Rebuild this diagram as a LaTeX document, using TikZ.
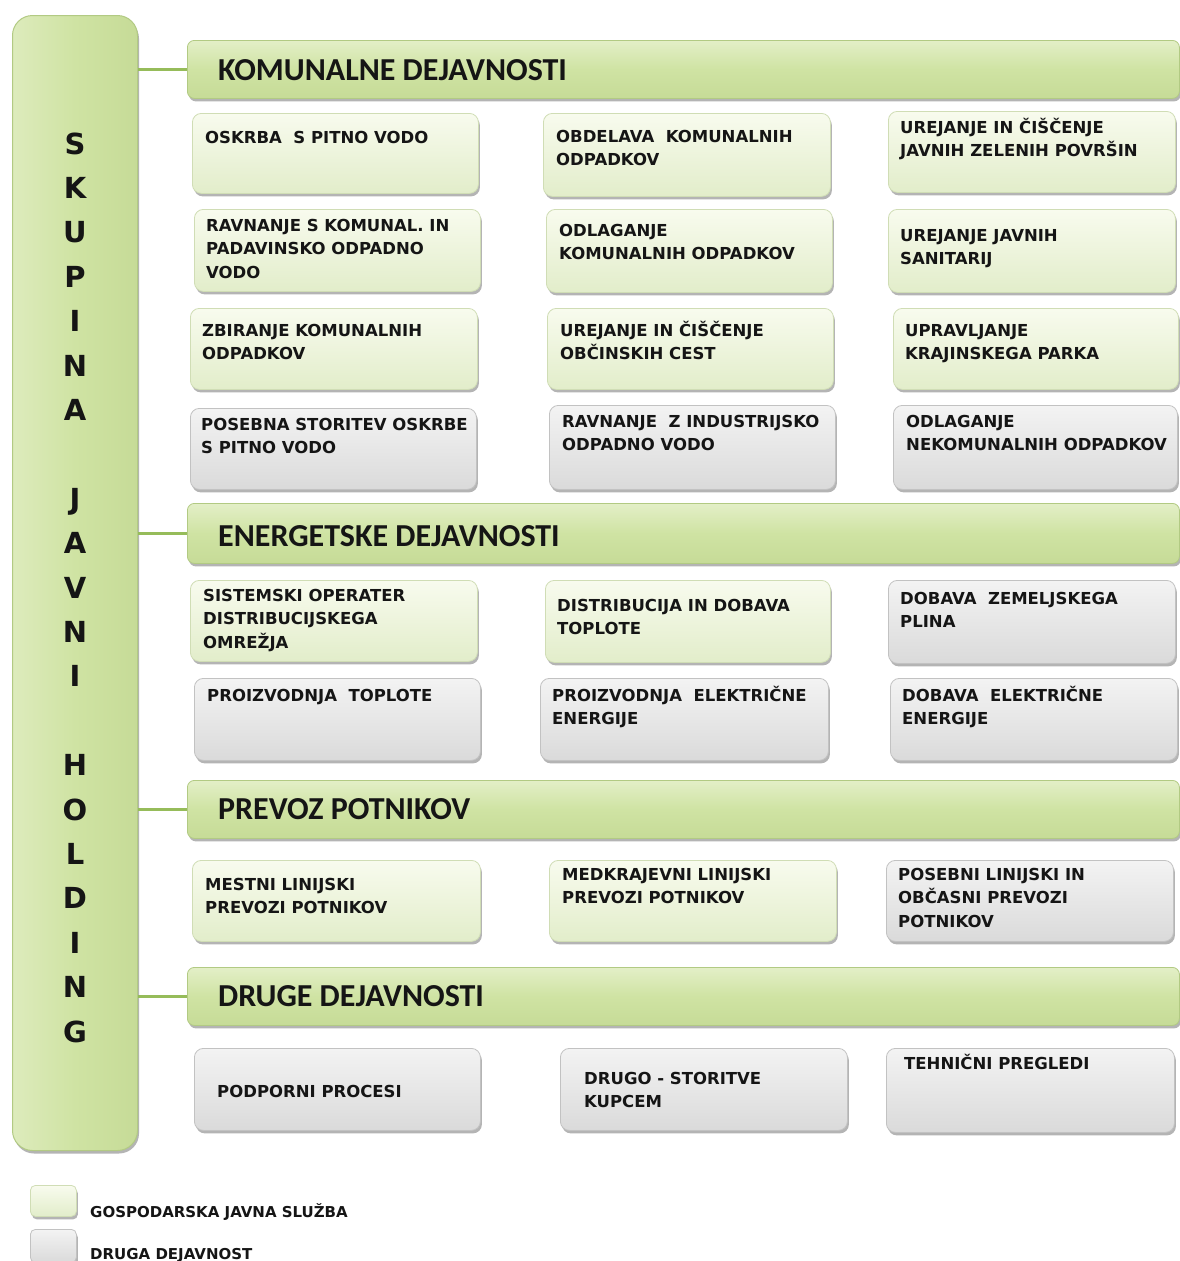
\documentclass[tikz,border=0pt]{standalone}
\usepackage{fontspec}
\setmainfont{DejaVu Sans}
\newfontfamily\catfont{Carlito}
\usetikzlibrary{shadows}
\definecolor{barg}{HTML}{CFE3A3}
\definecolor{bartop}{HTML}{E3EFC7}
\definecolor{barbot}{HTML}{C6DB97}
\definecolor{barleft}{HTML}{DDEBBC}
\definecolor{barline}{HTML}{B2CA83}
\definecolor{gtop}{HTML}{F8FBEE}
\definecolor{gbot}{HTML}{E2EDCA}
\definecolor{gline}{HTML}{D0DDB5}
\definecolor{ytop}{HTML}{F3F3F3}
\definecolor{ybot}{HTML}{DADADA}
\definecolor{yline}{HTML}{C2C2C2}
\definecolor{connc}{HTML}{96BC5A}
\definecolor{txtc}{HTML}{151515}
\tikzset{
  shad/.style={drop shadow={shadow xshift=1.5pt, shadow yshift=-3pt, opacity=0.45, fill=black!65}},
  gbox/.style={rounded corners=9pt, draw=gline, line width=0.8pt, top color=gtop, bottom color=gbot, shad, inner sep=0},
  ybox/.style={rounded corners=9pt, draw=yline, line width=0.8pt, top color=ytop, bottom color=ybot, shad, inner sep=0},
  catbar/.style={rounded corners=7pt, draw=barline, line width=0.8pt, top color=bartop, bottom color=barbot, middle color=barg, shad, inner sep=0},
  leftbar/.style={rounded corners=20pt, draw=barline, line width=1pt, left color=barleft, right color=barbot, middle color=barg, shad, inner sep=0},
  boxtext/.style={inner sep=0, font=\bfseries\fontsize{16.5}{23.5}\selectfont, text=txtc},
  cattext/.style={inner sep=0, font=\catfont\bfseries\fontsize{32}{36}\selectfont, text=txtc},
  legtext/.style={inner sep=0, font=\bfseries\fontsize{15}{18}\selectfont, text=txtc},
  connline/.style={draw=connc, line width=3pt},
}
\newcommand\mkbox[6]{\node[#2, anchor=north west, minimum width={(#5-#3)*1pt}, minimum height={(#6-#4)*1pt}] (#1) at (#3,#4) {};}
\newcommand\mktxt[4]{\node[boxtext, anchor=base west] (#1) at (#2,#3) {\begin{tabular}[t]{@{}l@{}}#4\end{tabular}};}
\begin{document}
\begin{tikzpicture}[x=1pt,y=-1pt]
\fill[white] (0,0) rectangle (1180,1261);
\useasboundingbox (0,0) rectangle (1180,1261);
% left bar
\mkbox{lbar}{leftbar}{12}{15}{137}{1150}
\node[inner sep=0, anchor=base, font=\bfseries\fontsize{29}{44.4}\selectfont, text=txtc] (title) at (75,154)
 {\begin{tabular}[t]{@{}c@{}}S\\K\\U\\P\\I\\N\\A\\ \\J\\A\\V\\N\\I\\ \\H\\O\\L\\D\\I\\N\\G\end{tabular}};
% category bars
\mkbox{cat1}{catbar}{187}{40}{1179}{98}
\mkbox{cat2}{catbar}{187}{503}{1179}{563}
\mkbox{cat3}{catbar}{187}{780}{1179}{838}
\mkbox{cat4}{catbar}{187}{967}{1179}{1025}
\node[cattext, anchor=base west] (cat1t) at (218,80) {KOMUNALNE DEJAVNOSTI};
\node[cattext, anchor=base west] (cat2t) at (218,546) {ENERGETSKE DEJAVNOSTI};
\node[cattext, anchor=base west] (cat3t) at (218,819) {PREVOZ POTNIKOV};
\node[cattext, anchor=base west] (cat4t) at (218,1006) {DRUGE DEJAVNOSTI};
% connectors
\draw[connline] (lbar.east |- cat1.west) -- (cat1.west);
\draw[connline] (lbar.east |- cat2.west) -- (cat2.west);
\draw[connline] (lbar.east |- cat3.west) -- (cat3.west);
\draw[connline] (lbar.east |- cat4.west) -- (cat4.west);
% komunalne
\mkbox{k11}{gbox}{192}{113}{478}{193}
\mkbox{k12}{gbox}{543}{113}{830}{196}
\mkbox{k13}{gbox}{888}{111}{1175}{192}
\mkbox{k21}{gbox}{194}{209}{480}{291}
\mkbox{k22}{gbox}{546}{209}{832}{292}
\mkbox{k23}{gbox}{888}{209}{1175}{292}
\mkbox{k31}{gbox}{190}{308}{477}{389}
\mkbox{k32}{gbox}{547}{308}{833}{389}
\mkbox{k33}{gbox}{893}{308}{1178}{389}
\mkbox{k41}{ybox}{190}{408}{476}{489}
\mkbox{k42}{ybox}{549}{405}{835}{489}
\mkbox{k43}{ybox}{893}{405}{1177}{489}
\mktxt{k11t}{205}{143}{OSKRBA~~S PITNO VODO}
\mktxt{k12t}{556}{142}{OBDELAVA~~KOMUNALNIH\\ODPADKOV}
\mktxt{k13t}{900}{133}{UREJANJE IN ČIŠČENJE\\JAVNIH ZELENIH POVRŠIN}
\mktxt{k21t}{206}{231}{RAVNANJE S KOMUNAL. IN\\PADAVINSKO ODPADNO\\VODO}
\mktxt{k22t}{559}{236}{ODLAGANJE\\KOMUNALNIH ODPADKOV}
\mktxt{k23t}{900}{241}{UREJANJE JAVNIH\\SANITARIJ}
\mktxt{k31t}{202}{336}{ZBIRANJE KOMUNALNIH\\ODPADKOV}
\mktxt{k32t}{560}{336}{UREJANJE IN ČIŠČENJE\\OBČINSKIH CEST}
\mktxt{k33t}{905}{336}{UPRAVLJANJE\\KRAJINSKEGA PARKA}
\mktxt{k41t}{201}{430}{POSEBNA STORITEV OSKRBE\\S PITNO VODO}
\mktxt{k42t}{562}{427}{RAVNANJE~~Z INDUSTRIJSKO\\ODPADNO VODO}
\mktxt{k43t}{906}{427}{ODLAGANJE\\NEKOMUNALNIH ODPADKOV}
% energetske
\mkbox{e11}{gbox}{190}{580}{477}{661}
\mkbox{e12}{gbox}{545}{580}{830}{662}
\mkbox{e13}{ybox}{888}{580}{1175}{663}
\mkbox{e21}{ybox}{194}{678}{480}{760}
\mkbox{e22}{ybox}{540}{678}{828}{760}
\mkbox{e23}{ybox}{890}{678}{1177}{760}
\mktxt{e11t}{203}{601}{SISTEMSKI OPERATER\\DISTRIBUCIJSKEGA\\OMREŽJA}
\mktxt{e12t}{557}{611}{DISTRIBUCIJA IN DOBAVA\\TOPLOTE}
\mktxt{e13t}{900}{604}{DOBAVA~~ZEMELJSKEGA\\PLINA}
\mktxt{e21t}{207}{701}{PROIZVODNJA~~TOPLOTE}
\mktxt{e22t}{552}{701}{PROIZVODNJA~~ELEKTRIČNE\\ENERGIJE}
\mktxt{e23t}{902}{701}{DOBAVA~~ELEKTRIČNE\\ENERGIJE}
% prevoz
\mkbox{p1}{gbox}{192}{860}{480}{941}
\mkbox{p2}{gbox}{549}{860}{836}{941}
\mkbox{p3}{ybox}{886}{860}{1173}{941}
\mktxt{p1t}{205}{890}{MESTNI LINIJSKI\\PREVOZI POTNIKOV}
\mktxt{p2t}{562}{880}{MEDKRAJEVNI LINIJSKI\\PREVOZI POTNIKOV}
\mktxt{p3t}{898}{880}{POSEBNI LINIJSKI IN\\OBČASNI PREVOZI\\POTNIKOV}
% druge
\mkbox{d1}{ybox}{194}{1048}{480}{1130}
\mkbox{d2}{ybox}{560}{1048}{847}{1130}
\mkbox{d3}{ybox}{886}{1048}{1174}{1132}
\mktxt{d1t}{217}{1097}{PODPORNI PROCESI}
\mktxt{d2t}{584}{1084}{DRUGO - STORITVE\\KUPCEM}
\mktxt{d3t}{904}{1069}{TEHNIČNI PREGLEDI}
% legend
\node[gbox, rounded corners=5pt, anchor=north west, minimum width=46pt, minimum height=31pt] (lg1) at (30,1185) {};
\node[ybox, rounded corners=5pt, anchor=north west, minimum width=46pt, minimum height=33pt] (lg2) at (30,1229) {};
\node[legtext, anchor=base west] (lg1t) at (90,1217) {GOSPODARSKA JAVNA SLUŽBA};
\node[legtext, anchor=base west] (lg2t) at (90,1259) {DRUGA DEJAVNOST};
\end{tikzpicture}
\end{document}
